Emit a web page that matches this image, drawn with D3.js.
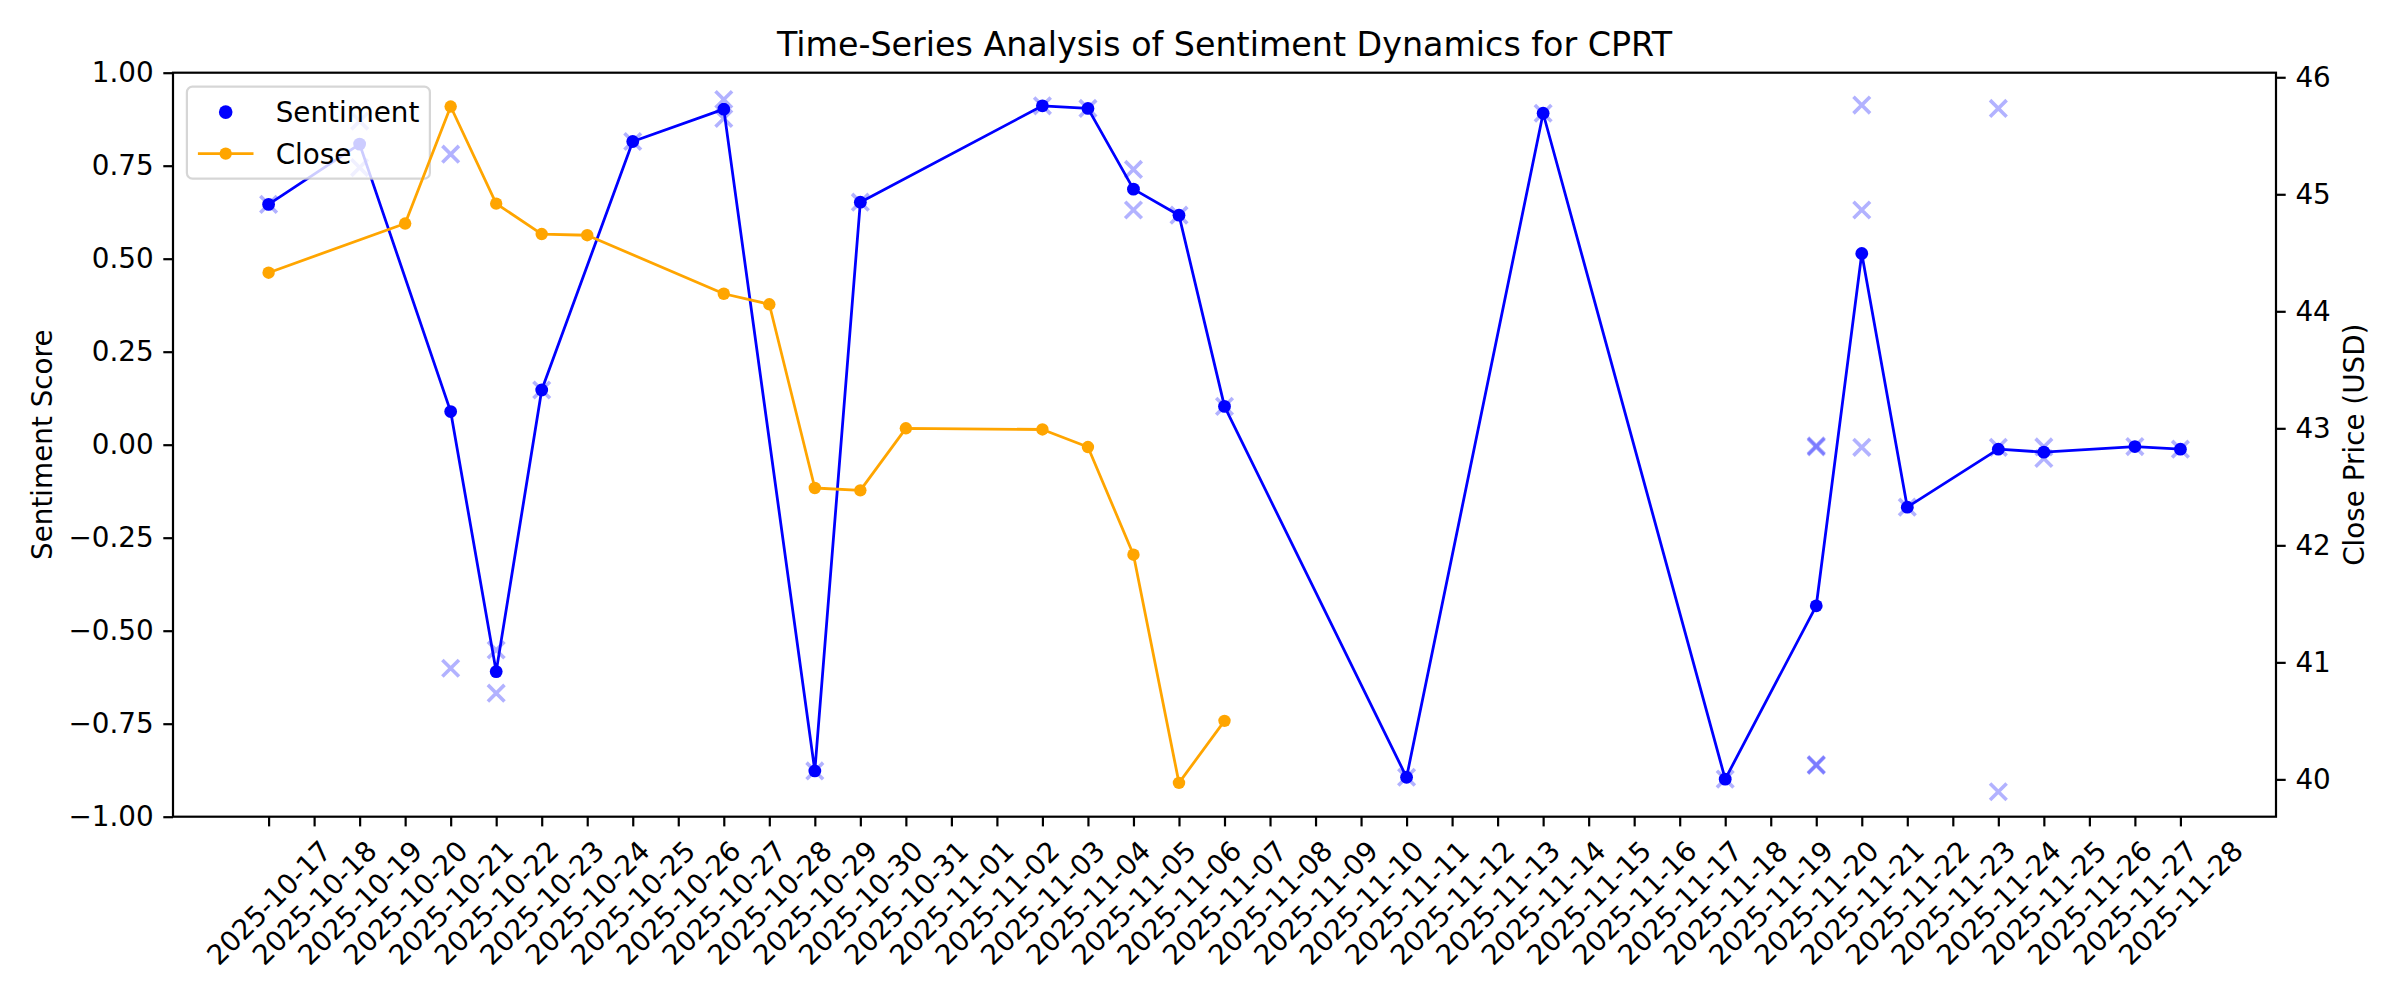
<!DOCTYPE html>
<html><head><meta charset="utf-8">
<script src="https://cdn.jsdelivr.net/npm/d3@7"></script>
<style>
body{margin:0;background:#fff}
svg{display:block}
text{font-family:"DejaVu Sans",sans-serif;fill:#000}
</style>
</head><body>
<svg id="chart" width="2400" height="1000"></svg>
<script>
// ---------------- data ----------------
const meanDates = ["2025-10-17","2025-10-19","2025-10-21","2025-10-22","2025-10-23","2025-10-25","2025-10-27","2025-10-29","2025-10-30","2025-11-03","2025-11-04","2025-11-05","2025-11-06","2025-11-07","2025-11-11","2025-11-14","2025-11-18","2025-11-20","2025-11-21","2025-11-22","2025-11-24","2025-11-25","2025-11-27","2025-11-28"];
const meanScores = [0.646,0.808,0.089,-0.610,0.147,0.815,0.902,-0.877,0.652,0.911,0.904,0.687,0.617,0.103,-0.894,0.891,-0.899,-0.433,0.514,-0.168,-0.012,-0.020,-0.005,-0.012];

const scoreDates = ["2025-10-17","2025-10-19","2025-10-19","2025-10-21","2025-10-21","2025-10-22","2025-10-22","2025-10-23","2025-10-25","2025-10-27","2025-10-27","2025-10-29","2025-10-30","2025-11-03","2025-11-04","2025-11-05","2025-11-05","2025-11-06","2025-11-07","2025-11-11","2025-11-14","2025-11-18","2025-11-20","2025-11-20","2025-11-20","2025-11-20","2025-11-21","2025-11-21","2025-11-21","2025-11-22","2025-11-24","2025-11-24","2025-11-24","2025-11-25","2025-11-25","2025-11-27","2025-11-28"];
const scoreValues = [0.646,0.870,0.745,0.781,-0.601,-0.552,-0.668,0.147,0.815,0.928,0.877,-0.877,0.652,0.911,0.904,0.740,0.631,0.617,0.103,-0.894,0.891,-0.899,-0.003,-0.006,-0.860,-0.862,0.913,0.631,-0.007,-0.168,0.904,-0.007,-0.933,-0.006,-0.037,-0.005,-0.012];

const closeDates = ["2025-10-17","2025-10-20","2025-10-21","2025-10-22","2025-10-23","2025-10-24","2025-10-27","2025-10-28","2025-10-29","2025-10-30","2025-10-31","2025-11-03","2025-11-04","2025-11-05","2025-11-06","2025-11-07"];
const closeValues = [44.33,44.75,45.75,44.92,44.66,44.65,44.15,44.06,42.49,42.47,43.00,42.99,42.84,41.92,39.97,40.50];

const sentimentTicks = [-1,-0.75,-0.5,-0.25,0,0.25,0.5,0.75,1];
const priceTicks = [40,41,42,43,44,45,46];
const xTickFirst = "2025-10-17", xTickLast = "2025-11-28";
const titleText = "Time-Series Analysis of Sentiment Dynamics for CPRT";
const leftLabel = "Sentiment Score", rightLabel = "Close Price (USD)";
const legendLabels = ["Sentiment","Close"];

// ---------------- layout ----------------
const fs = 27.8, tickLen = 9.7, tickPad = 9.7, spineW = 2.2;
const m = {left:173, right:2276, top:72.7, bottom:816.7};
const svg = d3.select("#chart");
const parse = d3.utcParse("%Y-%m-%d");

const allDates = meanDates.concat(closeDates).map(parse);
const [d0, d1] = d3.extent(allDates);
const dpad = (d1 - d0) * 0.05;
const x = d3.scaleUtc().domain([new Date(+d0 - dpad), new Date(+d1 + dpad)]).range([m.left, m.right]);
const y = d3.scaleLinear().domain([-1, 1]).range([m.bottom, m.top]);
const [p0, p1] = d3.extent(closeValues);
const ppad = (p1 - p0) * 0.05;
const y2 = d3.scaleLinear().domain([p0 - ppad, p1 + ppad]).range([m.bottom, m.top]);

const clipId = "plotclip";
svg.append("defs").append("clipPath").attr("id", clipId)
  .append("rect").attr("x", m.left).attr("y", m.top).attr("width", m.right - m.left).attr("height", m.bottom - m.top);

const plot = svg.append("g").attr("clip-path", `url(#${clipId})`);

// individual scores (x markers)
const xs = 8.3;
plot.append("g").selectAll("path").data(scoreDates.map((d, i) => [parse(d), scoreValues[i]]))
  .join("path")
  .attr("d", d => {
    const cx = x(d[0]), cy = y(d[1]);
    return `M${cx - xs},${cy - xs}L${cx + xs},${cy + xs}M${cx - xs},${cy + xs}L${cx + xs},${cy - xs}`;
  })
  .attr("stroke", "#0000ff").attr("stroke-opacity", 0.3).attr("stroke-width", 3.6).attr("fill", "none");

// mean sentiment line + dots
const meanPts = meanDates.map((d, i) => [parse(d), meanScores[i]]);
plot.append("path").datum(meanPts)
  .attr("d", d3.line().x(d => x(d[0])).y(d => y(d[1])))
  .attr("fill", "none").attr("stroke", "#0000ff").attr("stroke-width", 2.78).attr("stroke-linejoin", "round");
plot.append("g").selectAll("circle").data(meanPts).join("circle")
  .attr("cx", d => x(d[0])).attr("cy", d => y(d[1])).attr("r", 6.4).attr("fill", "#0000ff");

// legend (on the primary axes)
const lg = svg.append("g");
const lx = m.left + 13.9, ly = m.top + 13.9, lw = 243, lh = 92;
lg.append("rect").attr("x", lx).attr("y", ly).attr("width", lw).attr("height", lh).attr("rx", 5.6)
  .attr("fill", "#fff").attr("fill-opacity", 0.8).attr("stroke", "#cccccc").attr("stroke-opacity", 0.8).attr("stroke-width", 2.2);
const row1 = ly + 25.5, row2 = ly + 67;
const hx0 = lx + 11, hx1 = hx0 + 55.6, hxc = (hx0 + hx1) / 2, tx = hx1 + 22.2;
lg.append("circle").attr("cx", hxc).attr("cy", row1).attr("r", 6.8).attr("fill", "#0000ff");
lg.append("text").attr("x", tx).attr("y", row1).attr("dy", "0.36em").style("font-size", fs + "px").text(legendLabels[0]);
lg.append("line").attr("x1", hx0).attr("x2", hx1).attr("y1", row2).attr("y2", row2).attr("stroke", "orange").attr("stroke-width", 2.78);
lg.append("circle").attr("cx", hxc).attr("cy", row2).attr("r", 6.2).attr("fill", "orange");
lg.append("text").attr("x", tx).attr("y", row2).attr("dy", "0.36em").style("font-size", fs + "px").text(legendLabels[1]);

// close price (twin axis)
const closePts = closeDates.map((d, i) => [parse(d), closeValues[i]]);
const plot2 = svg.append("g").attr("clip-path", `url(#${clipId})`);
plot2.append("path").datum(closePts)
  .attr("d", d3.line().x(d => x(d[0])).y(d => y2(d[1])))
  .attr("fill", "none").attr("stroke", "orange").attr("stroke-width", 2.78).attr("stroke-linejoin", "round");
plot2.append("g").selectAll("circle").data(closePts).join("circle")
  .attr("cx", d => x(d[0])).attr("cy", d => y2(d[1])).attr("r", 6.2).attr("fill", "orange");

// spines
svg.append("rect").attr("x", m.left).attr("y", m.top).attr("width", m.right - m.left).attr("height", m.bottom - m.top)
  .attr("fill", "none").attr("stroke", "#000").attr("stroke-width", spineW);

// axes
function styleAxis(g) {
  g.select(".domain").remove();
  g.selectAll(".tick line").attr("stroke", "#000").attr("stroke-width", spineW);
  g.selectAll(".tick text").style("font-size", fs + "px").attr("fill", "#000");
}
svg.append("g").attr("transform", `translate(${m.left},0)`)
  .call(d3.axisLeft(y).tickValues(sentimentTicks).tickSize(tickLen).tickPadding(tickPad).tickFormat(d3.format(".2f")))
  .call(styleAxis).attr("font-family", null);
svg.append("g").attr("transform", `translate(${m.right},0)`)
  .call(d3.axisRight(y2).tickValues(priceTicks).tickSize(tickLen).tickPadding(tickPad).tickFormat(d3.format("d")))
  .call(styleAxis).attr("font-family", null);

const xTicks = d3.utcDay.range(parse(xTickFirst), d3.utcDay.offset(parse(xTickLast), 1));
const xg = svg.append("g").attr("transform", `translate(0,${m.bottom})`)
  .call(d3.axisBottom(x).tickValues(xTicks).tickSize(tickLen).tickPadding(tickPad).tickFormat(d3.utcFormat("%Y-%m-%d")))
  .call(styleAxis).attr("font-family", null);
xg.selectAll(".tick text").each(function() {
  const t = d3.select(this);
  const w = this.getComputedTextLength();
  const h = fs * 1.0;
  const cy = tickLen + tickPad + (w + h) / Math.SQRT2 / 2;
  t.attr("dy", null).attr("y", 0).attr("x", 0)
   .attr("text-anchor", "middle").attr("dominant-baseline", "central")
   .attr("transform", `translate(0,${cy}) rotate(-45)`);
});

// title and labels
svg.append("text").attr("x", (m.left + m.right) / 2).attr("y", 56).attr("text-anchor", "middle")
  .style("font-size", "33.3px").text(titleText);
svg.append("text").attr("transform", `translate(52,${(m.top + m.bottom) / 2}) rotate(-90)`).attr("text-anchor", "middle")
  .style("font-size", fs + "px").text(leftLabel);
svg.append("text").attr("transform", `translate(2364,${(m.top + m.bottom) / 2}) rotate(-90)`).attr("text-anchor", "middle")
  .style("font-size", fs + "px").text(rightLabel);
</script>
</body></html>
